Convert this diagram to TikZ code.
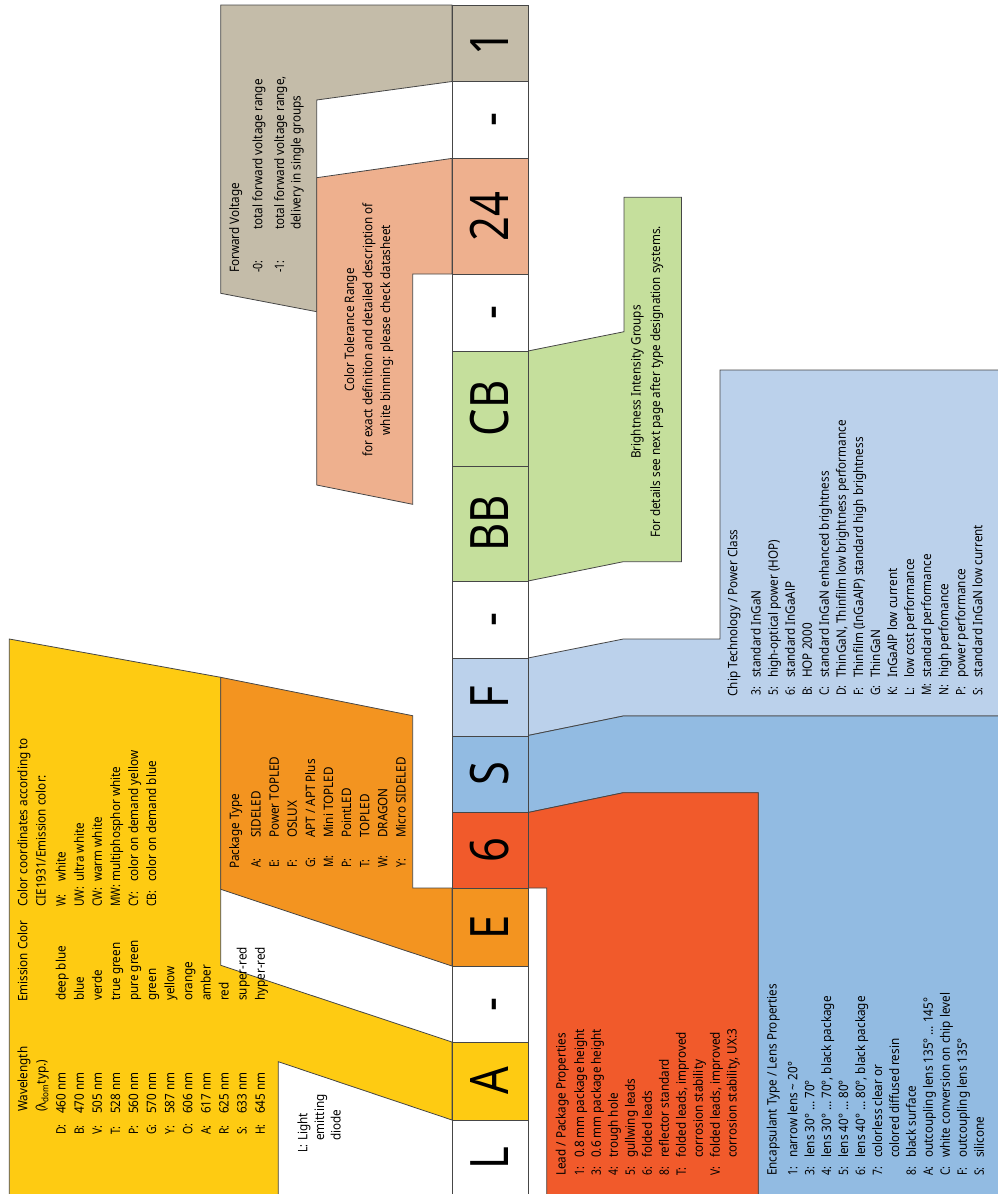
\documentclass[tikz,border=0pt]{standalone}
\usepackage{fontspec}
\setmainfont{Noto Sans}[FakeStretch=0.9]
\newfontfamily\bigfam{Noto Sans}[FakeStretch=0.82]
\newfontfamily\codefam{Noto Sans}[FakeStretch=0.8]
\usetikzlibrary{positioning}

\definecolor{fvtan}{RGB}{196,188,169}
\definecolor{ctsalmon}{RGB}{238,176,142}
\definecolor{bigreen}{RGB}{197,223,156}
\definecolor{chipblue}{RGB}{187,209,235}
\definecolor{encblue}{RGB}{146,187,226}
\definecolor{leadred}{RGB}{241,90,43}
\definecolor{pkgorange}{RGB}{243,148,32}
\definecolor{emyellow}{RGB}{254,203,18}
\definecolor{edgegray}{RGB}{70,70,70}

\newcommand{\smalltxt}{\fontsize{13}{17}\selectfont}
\newcommand{\codetxt}{\codefam\fontsize{13}{17}\selectfont}
\newcommand{\bigtxt}{\bigfam\fontsize{53}{53}\selectfont}

\tikzset{
  field/.style={draw=edgegray, line width=0.8pt, line join=miter},
  bigchar/.style={rotate=90, font=\bigtxt, inner sep=0pt, text height=37.8pt, text depth=0pt},
  rtxt/.style={rotate=90, anchor=base west, inner sep=0pt, font=\smalltxt},
  rcode/.style={rtxt, font=\codetxt},
  ctxt/.style={rotate=90, anchor=base, inner sep=0pt, font=\smalltxt},
}

\begin{document}
\begin{tikzpicture}[x=1pt, y=-1pt]
    \useasboundingbox (0,0) rectangle (997,1194);

    % Fields left of the code (px, y downwards)
    % Forward voltage
    \filldraw[field, fill=fvtan] (220.7,5) -- (452,5) -- (452,81.5) -- (316.7,100) -- (316.7,311.7) -- (220.7,293.3) -- cycle;
    % Color tolerance
    \filldraw[field, fill=ctsalmon] (452,158.4) -- (316.7,177.7) -- (316.7,485) -- (412.7,504.3) -- (412.7,274) -- (452,274) -- cycle;
    % Emission color
    \filldraw[field, fill=emyellow] (9.3,639) -- (220.7,677.3) -- (220.7,965.3) -- (452,1042) -- (452,1120) -- (278.3,1061.7) -- (278.3,1205) -- (9.3,1205) -- cycle;
    % Package type
    \filldraw[field, fill=pkgorange] (220.7,677.3) -- (412.7,715.7) -- (412.7,888) -- (452,888) -- (452,966) -- (220.7,889.3) -- cycle;

    % Fields right of the code
    % Brightness groups
    \filldraw[field, fill=bigreen] (528,351) -- (624,331.7) -- (624,197.3) -- (681.5,197.3) -- (681.5,561.7) -- (623.3,561.7) -- (528,581) -- cycle;
    % Chip technology
    \filldraw[field, fill=chipblue] (528,658) -- (623.3,639) -- (720,639) -- (720,370) -- (1005,370) -- (1005,716) -- (623.3,716) -- (528,735.5) -- cycle;
    % Encapsulant
    \filldraw[field, fill=encblue] (528,735.5) -- (623.3,716) -- (1005,716) -- (1005,1205) -- (758.3,1205) -- (758.3,792.7) -- (623.3,792.7) -- (528,812.5) -- cycle;
    % Lead / package
    \filldraw[field, fill=leadred] (528,812.5) -- (623.3,792.7) -- (758.3,792.7) -- (758.3,1205) -- (546.7,1205) -- (546.7,888) -- (528,888) -- cycle;

    % Code column: top/bottom/character/colour/name
    \foreach \ya/\yb/\ch/\col/\nm in {5/81.5/1/fvtan/c-fv, 81.5/158.4/-/white/c-d4, 158.4/274/24/ctsalmon/c-ct,
        274/351/-/white/c-d3, 351/466/CB/bigreen/c-cb, 466/581/BB/bigreen/c-bb, 581/658/-/white/c-d2,
        658/736/F/chipblue/c-chip, 736/812/S/encblue/c-enc, 812/888/6/leadred/c-lead, 888/966/E/pkgorange/c-pkg,
        966/1042/-/white/c-d1, 1042/1120/A/emyellow/c-em, 1120/1196/L/white/c-led} {
        \filldraw[field, fill=\col] (452,\ya) rectangle (528,\yb);
        \node[bigchar] (\nm) at (490,{(\ya+\yb)/2}) {\ch};
    }

    % Forward voltage
    \node[rtxt] (fv-head) at (239,273) {Forward Voltage};
    \node[rcode] (fv-c0) at (262.3,273) {-0:};
    \node[rtxt] (fv-d0) at (262.3,230) {total forward voltage range};
    \node[rcode] (fv-c1) at (284,273) {-1:};
    \node[rtxt] (fv-d1) at (284,230) {total forward voltage range,};
    \node[rtxt] (fv-d2) at (300.7,230) {delivery in single groups};

    % Color tolerance
    \node[ctxt] (ct-1) at (354,330) {Color Tolerance Range};
    \node[ctxt] (ct-2) at (372.3,330) {for exact definition and detailed description of};
    \node[ctxt] (ct-3) at (390,330) {white binning: please check datasheet};

    % Brightness groups
    \node[ctxt] (bi-1) at (640.7,382) {Brightness Intensity Groups};
    \node[ctxt] (bi-2) at (660,382) {For details see next page after type designation systems.};

    % Emission color / wavelength
    \node[rtxt] (wl-head) at (27.3,1112) {Wavelength};
    \node[rtxt] (wl-sub) at (45.7,1112) {(λ\textsubscript{dom}typ.)};
    \node[rtxt] (emc-head) at (27.3,1002) {Emission Color};
    \foreach \code/\wl/\emc [count=\i from 0] in {D/460/deep blue, B/470/blue, V/505/verde, T/528/true green,
        P/560/pure green, G/570/green, Y/587/yellow, O/606/orange, A/617/amber, R/625/red, S/633/super-red, H/645/hyper-red} {
        \node[rcode] (wl-code-\i) at ({65.7+18.1*\i},1135) {\code:};
        \node[rtxt] (wl-nm-\i) at ({65.7+18.1*\i},1114) {\wl{} nm};
        \node[rtxt] (wl-col-\i) at ({65.7+18.1*\i},1001) {\emc};
    }

    % Color coordinates
    \node[rtxt] (cc-head) at (27.3,907) {Color coordinates according to};
    \node[rtxt] (cc-head2) at (45.7,907) {CIE1931/Emission color:};
    \foreach \code/\desc [count=\i from 0] in {W/white, UW/ultra white, CW/warm white, MW/multiphosphor white,
        CY/color on demand yellow, CB/color on demand blue} {
        \node[rcode] (cc-code-\i) at ({65.7+18.1*\i},907) {\code:};
        \node[rtxt] (cc-desc-\i) at ({65.7+18.1*\i},882) {\desc};
    }

    % Light emitting diode
    \node[rcode] (led-code) at (307.3,1153) {L:};
    \foreach \w [count=\i from 0] in {Light, emitting, diode}
        \node[rtxt] (led-\i) at ({307.3+16.7*\i},1141) {\w};

    % Package type
    \node[rtxt] (pkg-head) at (239,869) {Package Type};
    \foreach \code/\desc [count=\i from 0] in {A/SIDELED, E/Power TOPLED, F/OSLUX, G/{APT / APT Plus},
        M/Mini TOPLED, P/PointLED, T/TOPLED, W/DRAGON, Y/Micro SIDELED} {
        \node[rcode] (pkg-code-\i) at ({260.7+18.1*\i},868) {\code:};
        \node[rtxt] (pkg-desc-\i) at ({260.7+18.1*\i},838) {\desc};
    }

    % Chip technology / power class
    \node[rtxt] (chip-head) at (737.3,696.7) {Chip Technology / Power Class};
    \foreach \code/\desc [count=\i from 0] in {3/standard InGaN, 5/high-optical power (HOP), 6/standard InGaAlP,
        B/HOP 2000, C/standard InGaN enhanced brightness, D/{ThinGaN, Thinfilm low brightness performance},
        F/Thinfilm (InGaAlP) standard high brightness, G/ThinGaN, K/InGaAlP low current, L/low cost performance,
        M/standard performance, N/high perfomance, P/power performance, S/standard InGaN low current} {
        \node[rcode] (chip-code-\i) at ({760.7+17.05*\i},696) {\code:};
        \node[rtxt] (chip-desc-\i) at ({760.7+17.05*\i},678) {\desc};
    }

    % Lead / package properties
    \node[rtxt] (lead-head) at (565.7,1176) {Lead / Package Properties};
    \foreach \code/\desc [count=\i from 0] in {1/0.8 mm package height, 3/0.6 mm package height, 4/trough hole,
        5/gullwing leads, 6/folded leads, 8/reflector standard, T/{folded leads, improved}, /corrosion stability,
        V/{folded leads, improved}, /{corrosion stability, UX:3}} {
        \node[rcode] (lead-code-\i) at ({584+16.97*\i},1176) {\ifx\code\empty\else\code:\fi};
        \node[rtxt] (lead-desc-\i) at ({584+16.97*\i},1158) {\desc};
    }

    % Encapsulant type / lens properties
    \node[rtxt] (enc-head) at (776.7,1176) {Encapsulant Type / Lens Properties};
    \foreach \code/\desc [count=\i from 0] in {1/narrow lens \textasciitilde{} 20°, 3/lens 30° … 70°,
        4/{lens 30° … 70°, black package}, 5/lens 40° … 80°, 6/{lens 40° … 80°, black package},
        7/colorless clear or, /colored diffused resin, 8/black surface, A/outcoupling lens 135° … 145°,
        C/white conversion on chip level, F/outcoupling lens 135°, S/silicone} {
        \node[rcode] (enc-code-\i) at ({797.3+16.95*\i},1176) {\ifx\code\empty\else\code:\fi};
        \node[rtxt] (enc-desc-\i) at ({797.3+16.95*\i},1158) {\desc};
    }
\end{tikzpicture}
\end{document}
